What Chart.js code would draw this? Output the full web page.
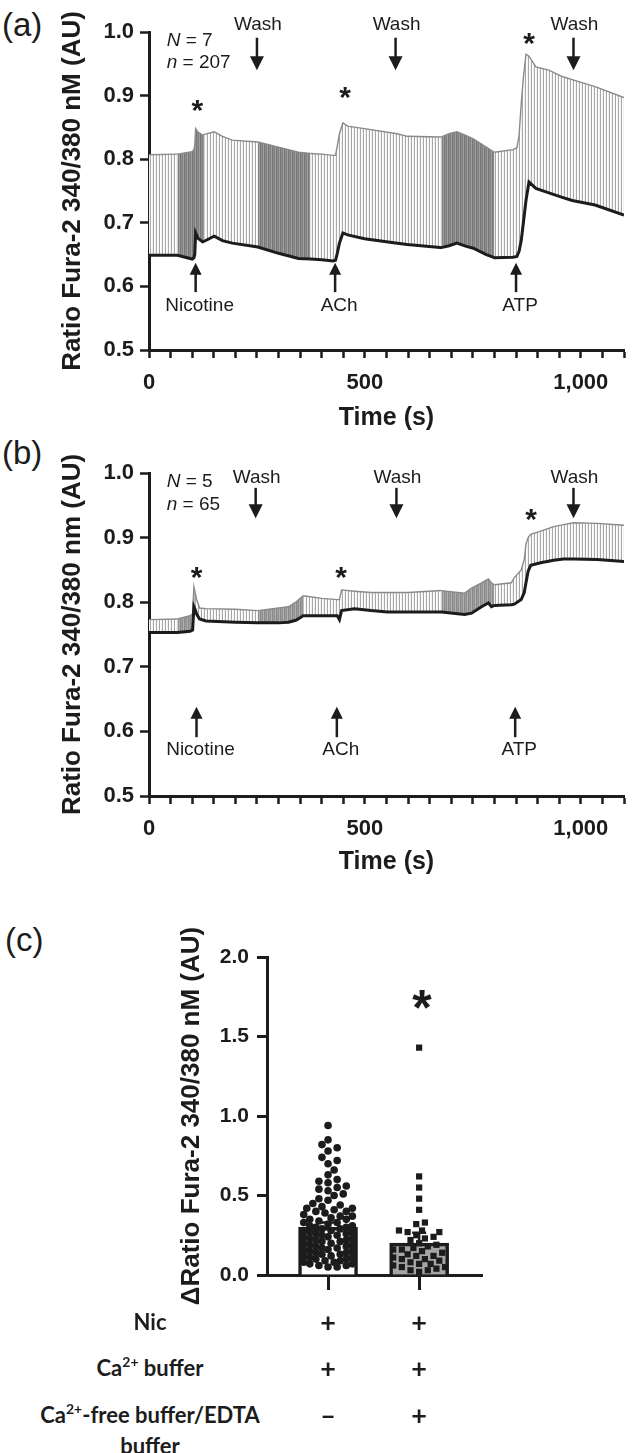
<!DOCTYPE html>
<html>
<head>
<meta charset="utf-8">
<script src="https://cdn.jsdelivr.net/npm/chart.js@4.4.1/dist/chart.umd.min.js"></script>
<style>
  html, body { margin: 0; padding: 0; background: #fff; }
  #page { position: relative; width: 636px; height: 1453px; overflow: hidden; color: #1c1c1c;
          font-family: 'Liberation Sans', Arial, sans-serif; }
  canvas { position: absolute; left: 0; }
  .panel { position: absolute; font-size: 33px; line-height: 38px; }
  .row { position: absolute; left: 0; width: 300px; text-align: center; line-height: 28px;
         font-family: Lato, 'Open Sans', sans-serif; font-weight: 700; font-size: 22px; }
  .row sup { font-size: 14px; vertical-align: 0; position: relative; top: -9px; }
  .sign { position: absolute; width: 40px; margin-left: -20px; text-align: center; line-height: 28px;
          font-family: Lato, 'Open Sans', sans-serif; font-weight: 700; font-size: 27px; }
</style>
</head>
<body>
<div id="page">
  <div class="panel" style="left:2px;top:6px">(a)</div>
  <div class="panel" style="left:2px;top:434px">(b)</div>
  <div class="panel" style="left:5px;top:921px">(c)</div>
  <canvas id="chartA" width="636" height="440" style="top:0;width:636px;height:440px"></canvas>
  <canvas id="chartB" width="636" height="440" style="top:440px;width:636px;height:440px"></canvas>
  <canvas id="chartC" width="636" height="420" style="top:900px;width:636px;height:420px"></canvas>
</div>
<script>
const INK = '#1c1c1c';

// Panel (a): time (s), mean ratio and mean + error (upper edge of the error bars)
const timeA  = [0, 66, 100, 104, 106, 108, 113, 124, 128, 151, 170, 193, 252, 300, 346, 374, 400, 426, 432, 436, 441, 449,
                460, 499, 575, 598, 674, 677, 695, 713, 735, 751, 781, 797, 800, 843, 852, 857, 862, 867, 873, 880,
                896, 926, 957, 980, 1033, 1100];
const meanA  = [0.649, 0.649, 0.643, 0.645, 0.650, 0.684, 0.676, 0.670, 0.671, 0.679, 0.672, 0.668, 0.662, 0.652, 0.644, 0.643,
                0.642, 0.640, 0.641, 0.652, 0.668, 0.684, 0.681, 0.675, 0.668, 0.666, 0.661, 0.661, 0.664, 0.668, 0.663, 0.660,
                0.650, 0.646, 0.645, 0.646, 0.647, 0.655, 0.672, 0.700, 0.735, 0.764, 0.754, 0.747, 0.740, 0.735, 0.728, 0.712];
const upperA = [0.807, 0.808, 0.812, 0.815, 0.822, 0.848, 0.843, 0.838, 0.839, 0.843, 0.836, 0.830, 0.827, 0.819, 0.811, 0.809,
                0.808, 0.806, 0.806, 0.821, 0.840, 0.857, 0.852, 0.848, 0.840, 0.836, 0.835, 0.835, 0.840, 0.843, 0.837, 0.832,
                0.819, 0.812, 0.811, 0.815, 0.818, 0.837, 0.887, 0.928, 0.965, 0.962, 0.945, 0.940, 0.930, 0.925, 0.914, 0.897];
// windows of fast sampling (error bars drawn densely)
const denseA = [[66, 128], [252, 374], [677, 800]];

// Panel (b)
const timeB  = [0, 66, 95, 101, 104, 106, 110, 117, 132, 200, 252, 300, 323, 340, 350, 357, 400, 436, 441, 446, 476, 514,
                552, 600, 677, 731, 747, 770, 786, 793, 800, 839, 846, 862, 869, 873, 878, 884, 907, 937, 960, 983, 1038, 1100];
const meanB  = [0.753, 0.753, 0.755, 0.757, 0.793, 0.790, 0.782, 0.774, 0.771, 0.769, 0.768, 0.768, 0.769, 0.772, 0.776, 0.779,
                0.779, 0.779, 0.773, 0.787, 0.790, 0.787, 0.785, 0.785, 0.785, 0.781, 0.783, 0.793, 0.799, 0.793, 0.795, 0.796,
                0.797, 0.804, 0.815, 0.830, 0.848, 0.857, 0.861, 0.865, 0.867, 0.867, 0.866, 0.863];
const upperB = [0.773, 0.774, 0.779, 0.782, 0.824, 0.818, 0.805, 0.791, 0.790, 0.789, 0.787, 0.791, 0.793, 0.800, 0.806, 0.810,
                0.806, 0.804, 0.804, 0.819, 0.817, 0.815, 0.815, 0.815, 0.818, 0.814, 0.822, 0.830, 0.836, 0.830, 0.827, 0.830,
                0.838, 0.850, 0.866, 0.890, 0.900, 0.905, 0.910, 0.917, 0.920, 0.923, 0.922, 0.919];
const denseB = [[66, 106], [252, 357], [677, 800]];

// Panel (c): bar means, errors and single cells
const groupsC = ['Ca2+ buffer', 'Ca2+-free buffer/EDTA'];
const meansC = [0.30, 0.20];
const errC = [0.03, 0.065];
const cellsC1 = [0.94, 0.85, 0.82, 0.80, 0.78, 0.74, 0.72, 0.70, 0.66, 0.63, 0.60, 0.59, 0.58, 0.56, 0.55, 0.54, 0.53, 0.51, 0.50,
                 0.48, 0.47, 0.45, 0.44, 0.43, 0.42, 0.42, 0.41, 0.40, 0.40,
                 0.39, 0.38, 0.37, 0.37, 0.36, 0.35, 0.35, 0.34, 0.33, 0.33, 0.32, 0.31, 0.31, 0.30, 0.30,
                 0.29, 0.29, 0.28, 0.28, 0.27, 0.27, 0.26, 0.26, 0.25, 0.25, 0.24, 0.24, 0.23, 0.23, 0.22, 0.22, 0.21, 0.21, 0.20, 0.20,
                 0.19, 0.19, 0.18, 0.18, 0.17, 0.17, 0.16, 0.16, 0.15, 0.15, 0.14, 0.14, 0.13, 0.13, 0.12, 0.12, 0.11, 0.11, 0.10, 0.10,
                 0.09, 0.09, 0.08, 0.08, 0.07, 0.07, 0.06, 0.06, 0.05, 0.05];
const cellsC2 = [1.43, 0.62, 0.55, 0.48, 0.41, 0.33, 0.32, 0.28, 0.28, 0.27, 0.27, 0.25, 0.24, 0.23, 0.22, 0.20, 0.19, 0.18,
                 0.17, 0.16, 0.16, 0.15, 0.14, 0.13, 0.12, 0.12, 0.11, 0.10, 0.10, 0.09, 0.08, 0.07, 0.07, 0.06, 0.05, 0.05,
                 0.04, 0.03, 0.03, 0.02];
const rowLabels = ['Nic', 'Ca<sup>2+</sup> buffer', 'Ca<sup>2+</sup>-free buffer/EDTA<br>buffer'];
const rowSigns = [['+', '+'], ['+', '+'], ['\u2013', '+']];

Chart.defaults.font.family = "'Liberation Sans', Arial, sans-serif";
Chart.defaults.color = INK;
Chart.defaults.animation = false;
Chart.defaults.events = [];
Chart.defaults.plugins.legend.display = false;
Chart.defaults.plugins.tooltip.enabled = false;

// vertical-stripe fills that mimic the error bar forest
function stripes(colors) {
  const c = document.createElement('canvas');
  c.width = colors.length; c.height = 4;
  const g = c.getContext('2d');
  colors.forEach((col, i) => { g.fillStyle = col; g.fillRect(i, 0, 1, 4); });
  return g.createPattern(c, 'repeat');
}

function arrow(ctx, x, yFrom, yTip, head) {
  const dir = yTip > yFrom ? 1 : -1;
  ctx.lineWidth = 2.5;
  ctx.beginPath(); ctx.moveTo(x, yFrom); ctx.lineTo(x, yTip - dir * head * 0.8); ctx.stroke();
  ctx.beginPath();
  ctx.moveTo(x, yTip);
  ctx.lineTo(x - head / 2, yTip - dir * head);
  ctx.lineTo(x + head / 2, yTip - dir * head);
  ctx.closePath(); ctx.fill();
}

function star(ctx, x, cy, size) {
  ctx.font = `bold ${size}px 'Liberation Sans', Arial`;
  ctx.textAlign = 'center';
  ctx.textBaseline = 'alphabetic';
  ctx.fillText('*', x, cy + 0.56 * size);
}

function marksPlugin(m) {
  return {
    id: 'marks',
    afterDraw(chart) {
      const { ctx, scales: { x, y } } = chart;
      ctx.save();
      ctx.fillStyle = INK; ctx.strokeStyle = INK;
      ctx.textAlign = 'center'; ctx.textBaseline = 'middle';
      ctx.font = "19px 'Liberation Sans', Arial";
      m.wash.forEach(t => {
        const px = x.getPixelForValue(t);
        ctx.fillText('Wash', px + 1, y.getPixelForValue(m.washText));
        arrow(ctx, px, y.getPixelForValue(m.washArrow[0]), y.getPixelForValue(m.washArrow[1]), 14);
      });
      m.stims.forEach(([label, t]) => {
        const px = x.getPixelForValue(t);
        ctx.font = "19px 'Liberation Sans', Arial";
        ctx.textAlign = 'center'; ctx.textBaseline = 'middle';
        ctx.fillText(label, px + 4, y.getPixelForValue(m.stimText));
        arrow(ctx, px, y.getPixelForValue(m.stimArrow[0]), y.getPixelForValue(m.stimArrow[1]), 12);
      });
      m.stars.forEach(([t, v]) => star(ctx, x.getPixelForValue(t), y.getPixelForValue(v), 30));
      // N / n counts
      const nx = x.getPixelForValue(m.counts.t);
      [['N', m.counts.N, m.counts.y[0]], ['n', m.counts.n, m.counts.y[1]]].forEach(([sym, val, v]) => {
        const py = y.getPixelForValue(v);
        ctx.textAlign = 'left'; ctx.textBaseline = 'middle';
        ctx.font = "italic 19px 'Liberation Sans', Arial";
        ctx.fillText(sym, nx, py);
        const w = ctx.measureText(sym).width;
        ctx.font = "19px 'Liberation Sans', Arial";
        ctx.fillText(' = ' + val, nx + w, py);
      });
      ctx.restore();
    }
  };
}

function traceChart(id, time, mean, upper, dense, shades, box, yTitle, marks) {
  const canvas = document.getElementById(id);
  const W = canvas.width, H = canvas.height;
  const inDense = (a, b) => dense.some(([s, e]) => (a + b) / 2 >= s && (a + b) / 2 <= e);
  return new Chart(canvas, {
    type: 'line',
    data: {
      datasets: [
        {
          data: time.map((t, i) => ({ x: t, y: mean[i] })),
          borderColor: INK, borderWidth: 3, pointRadius: 0, fill: false
        },
        {
          data: time.map((t, i) => ({ x: t, y: upper[i] })),
          borderColor: '#8a8a8a', borderWidth: 1.4, pointRadius: 0,
          backgroundColor: shades.light,
          fill: 0,
          segment: {
            backgroundColor: c => inDense(c.p0.parsed.x, c.p1.parsed.x) ? shades.dark : shades.light
          }
        }
      ]
    },
    options: {
      responsive: false,
      layout: { padding: { left: 0, right: W - box.right, top: box.top, bottom: 0 } },
      scales: {
        x: {
          type: 'linear', min: 0, max: 1100,
          afterFit: s => { s.height = H - box.bottom; },
          ticks: {
            stepSize: 50, autoSkip: false, maxRotation: 0, padding: 12,
            font: { size: 22, weight: 'bold' },
            callback: v => v % 500 === 0 ? v.toLocaleString('en-US') : ''
          },
          grid: { drawOnChartArea: false, tickLength: 8, tickWidth: 2.5, tickColor: INK },
          border: { color: INK, width: 3 },
          title: { display: true, text: 'Time (s)', font: { size: 25, weight: 'bold' },
                   padding: { top: 0, bottom: box.xTitlePad } }
        },
        y: {
          min: 0.5, max: 1.0,
          afterFit: s => { s.width = box.left; },
          ticks: { stepSize: 0.1, padding: 6, font: { size: 22, weight: 'bold' }, callback: v => v.toFixed(1) },
          grid: { drawOnChartArea: false, tickLength: 9, tickWidth: 2.5, tickColor: INK },
          border: { color: INK, width: 3 },
          title: { display: true, text: yTitle, font: { size: 26, weight: 'bold' },
                   padding: { top: 57, bottom: 0 } }
        }
      }
    },
    plugins: [marksPlugin(marks)]
  });
}

const lightShade = stripes(['#a8a8a8', '#ffffff', '#f2f2f2']);

traceChart('chartA', timeA, meanA, upperA, denseA,
  { light: lightShade, dark: stripes(['#777777', '#8c8c8c', '#808080', '#a0a0a0']) },
  { left: 149, right: 630, top: 32, bottom: 350, xTitlePad: 7 },
  'Ratio Fura-2 340/380 nM (AU)',
  { wash: [250, 571, 983], washText: 1.011, washArrow: [0.991, 0.940],
    stims: [['Nicotine', 108], ['ACh', 431], ['ATP', 850]], stimArrow: [0.591, 0.637], stimText: 0.570,
    stars: [[112, 0.888], [454, 0.908], [880, 0.994]],
    counts: { t: 41, N: '7', n: '207', y: [0.986, 0.952] } });

traceChart('chartB', timeB, meanB, upperB, denseB,
  { light: lightShade, dark: stripes(['#8a8a8a', '#9c9c9c', '#909090', '#b0b0b0']) },
  { left: 149, right: 630, top: 33, bottom: 356, xTitlePad: 3 },
  'Ratio Fura-2 340/380 nm (AU)',
  { wash: [247, 573, 983], washText: 0.992, washArrow: [0.977, 0.930],
    stims: [['Nicotine', 110], ['ACh', 435], ['ATP', 848]], stimArrow: [0.591, 0.638], stimText: 0.571,
    stars: [[110, 0.850], [445, 0.850], [885, 0.939]],
    counts: { t: 41, N: '5', n: '65', y: [0.987, 0.951] } });

// Panel (c)
const canvasC = document.getElementById('chartC');
const chartC = new Chart(canvasC, {
  type: 'bar',
  data: {
    datasets: [
      {
        type: 'bar', order: 3,
        data: meansC.map((v, i) => ({ x: i, y: v })),
        backgroundColor: ['#ffffff', '#a5a5a5'], borderColor: INK, borderWidth: 3.5,
        barThickness: 59, borderSkipped: 'start'
      },
      {
        type: 'scatter', order: 1,
        data: cellsC1.map(v => ({ x: 0, y: v })),
        pointStyle: 'circle', pointRadius: 3.8, backgroundColor: INK, borderWidth: 0
      },
      {
        type: 'scatter', order: 1,
        data: cellsC2.map(v => ({ x: 1, y: v })),
        pointStyle: 'rect', pointRadius: 4.4, backgroundColor: INK, borderWidth: 0
      }
    ]
  },
  options: {
    responsive: false,
    layout: { padding: { left: 0, right: 636 - 482, top: 57, bottom: 0 } },
    scales: {
      x: {
        type: 'linear', min: -0.67, max: 1.69, offset: false,
        afterBuildTicks: s => { s.ticks = groupsC.map((_, i) => ({ value: i })); },
        afterFit: s => { s.height = 420 - 375; },
        ticks: { callback: () => '' },
        grid: { offset: false, drawOnChartArea: false, tickLength: 15, tickWidth: 3, tickColor: INK },
        border: { color: INK, width: 3 }
      },
      y: {
        min: 0, max: 2.0,
        afterFit: s => { s.width = 267; },
        ticks: { stepSize: 0.5, padding: 8, font: { size: 21, weight: 'bold' }, callback: v => v.toFixed(1) },
        grid: { drawOnChartArea: false, tickLength: 10, tickWidth: 3, tickColor: INK },
        border: { color: INK, width: 3 },
        title: { display: true, text: '\u0394Ratio Fura-2 340/380 nM (AU)', font: { size: 26, weight: 'bold' },
                 padding: { top: 176, bottom: 0 } }
      }
    }
  },
  plugins: [{
    id: 'errStar',
    afterDraw(chart) {
      const { ctx, scales: { x, y } } = chart;
      ctx.save();
      ctx.strokeStyle = INK; ctx.fillStyle = INK; ctx.lineWidth = 2.5;
      meansC.forEach((m, i) => {
        const px = x.getPixelForValue(i);
        const top = y.getPixelForValue(m + errC[i]);
        ctx.beginPath();
        ctx.moveTo(px, y.getPixelForValue(m)); ctx.lineTo(px, top);
        ctx.moveTo(px - 7, top); ctx.lineTo(px + 7, top);
        ctx.stroke();
      });
      star(ctx, x.getPixelForValue(1.03), y.getPixelForValue(1.75), 50);
      ctx.restore();
    }
  }]
});

// spread single cells sideways so they do not overlap (scatter dot plot)
function swarm(values, group, radius) {
  const xs = chartC.scales.x, ys = chartC.scales.y;
  const cx = xs.getPixelForValue(group);
  const placed = [];
  const step = radius * 0.8, maxOff = 27;
  return [...values].sort((a, b) => a - b).map(v => {
    const py = ys.getPixelForValue(v);
    let best = 0, bestGap = -Infinity;
    for (let k = 0; ; k++) {
      const off = (k % 2 ? 1 : -1) * Math.ceil(k / 2) * step;
      if (Math.abs(off) > maxOff) break;
      let gap = Infinity;
      for (const p of placed) gap = Math.min(gap, Math.hypot(p[0] - cx - off, p[1] - py));
      if (gap >= radius * 2) { best = off; break; }
      if (gap > bestGap) { bestGap = gap; best = off; }
    }
    placed.push([cx + best, py]);
    return { x: xs.getValueForPixel(cx + best), y: v };
  });
}
chartC.data.datasets[1].data = swarm(cellsC1, 0, 3.8);
chartC.data.datasets[2].data = swarm(cellsC2, 1, 3.6);
chartC.update('none');

// condition table under panel (c)
const page = document.getElementById('page');
const rowTops = [1308, 1354, 1401];
rowLabels.forEach((html, r) => {
  const d = document.createElement('div');
  d.className = 'row';
  d.style.top = rowTops[r] + 'px';
  d.innerHTML = html;
  page.appendChild(d);
  rowSigns[r].forEach((s, i) => {
    const e = document.createElement('div');
    e.className = 'sign';
    e.style.top = rowTops[r] + 'px';
    e.style.left = chartC.scales.x.getPixelForValue(i) + 'px';
    e.textContent = s;
    page.appendChild(e);
  });
});
</script>
</body>
</html>
